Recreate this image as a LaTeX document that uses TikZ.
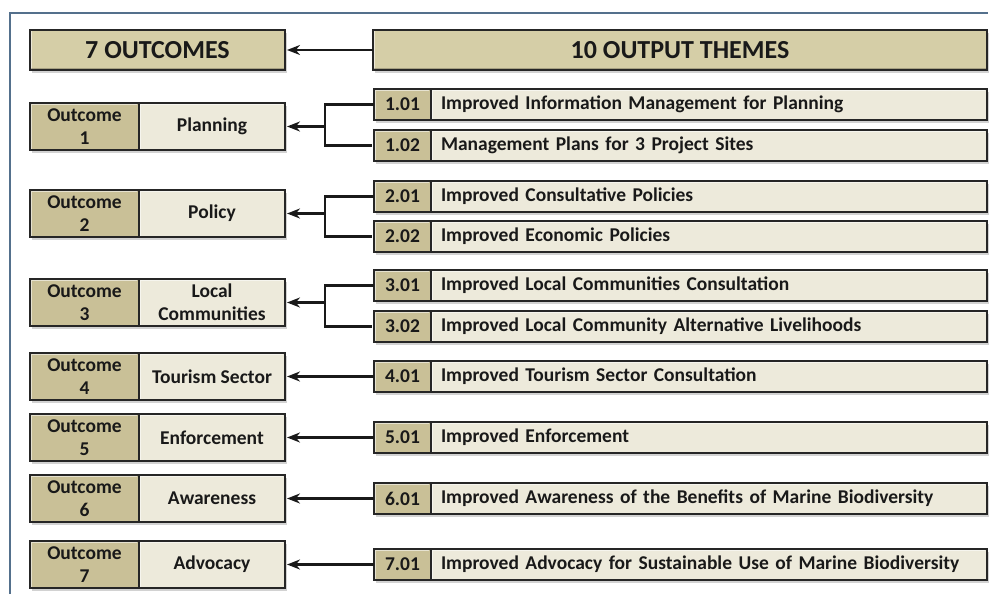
\documentclass[tikz,border=0pt]{standalone}
\usepackage{fontspec}
\setmainfont{Carlito}
\usetikzlibrary{arrows.meta,shadows,calc}

\definecolor{khaki}{RGB}{201,192,151}
\definecolor{headkhaki}{RGB}{213,206,167}
\definecolor{cream}{RGB}{237,234,219}
\definecolor{framecol}{RGB}{84,112,140}

\tikzset{
  bevel/.style={path picture={
      \draw[white,opacity=.55,line width=3pt] (path picture bounding box.south west) |- (path picture bounding box.north east);
      \draw[black,opacity=.22,line width=3pt] (path picture bounding box.south west) -| (path picture bounding box.north east);}},
  cell/.style={draw=black!85,line width=1.3pt,outer sep=0pt,inner sep=0pt,text=black!90,
               font=\bfseries\fontsize{19.5}{23}\selectfont,bevel,
               drop shadow={shadow xshift=2pt,shadow yshift=-3pt,fill=black!35}},
  headcell/.style={cell,fill=headkhaki,minimum height=40pt,font=\bfseries\fontsize{26}{30}\selectfont},
  outcell/.style={cell,fill=khaki,minimum width=109pt,minimum height=47pt,align=center},
  namecell/.style={cell,fill=cream,minimum width=146pt,minimum height=47pt,align=center},
  codecell/.style={cell,fill=khaki,minimum width=57pt,minimum height=31pt},
  themecell/.style={cell,fill=cream,minimum height=31pt,inner xsep=10pt,text width=536pt,align=left},
  link/.style={line width=2.8pt,black!90}
}

\begin{document}
\begin{tikzpicture}[x=1pt,y=-1pt,>={Stealth[length=13pt,width=10pt]},shorten >=2pt]

  \fill[white,use as bounding box] (0,0) rectangle (990,594);
  \draw[framecol,line width=1.5pt] (10,594) |- (990,13);

  % headings
  \node[headcell,minimum width=255pt,anchor=north west] (hout) at (30,30) {7 OUTCOMES};
  \node[headcell,minimum width=614pt,anchor=north west] (hthm) at (373,30) {10 OUTPUT THEMES};

  % outcomes
  \node[outcell,anchor=north west] (o1) at (30,103) {Outcome\\1};
  \node[namecell,anchor=west]      (n1) at (o1.east) {Planning};
  \node[outcell,anchor=north west] (o2) at (30,190) {Outcome\\2};
  \node[namecell,anchor=west]      (n2) at (o2.east) {Policy};
  \node[outcell,anchor=north west] (o3) at (30,279) {Outcome\\3};
  \node[namecell,anchor=west]      (n3) at (o3.east) {Local\\Communities};
  \node[outcell,anchor=north west] (o4) at (30,353) {Outcome\\4};
  \node[namecell,anchor=west]      (n4) at (o4.east) {Tourism Sector};
  \node[outcell,anchor=north west] (o5) at (30,414) {Outcome\\5};
  \node[namecell,anchor=west]      (n5) at (o5.east) {Enforcement};
  \node[outcell,anchor=north west] (o6) at (30,475) {Outcome\\6};
  \node[namecell,anchor=west]      (n6) at (o6.east) {Awareness};
  \node[outcell,anchor=north west] (o7) at (30,541) {Outcome\\7};
  \node[namecell,anchor=west]      (n7) at (o7.east) {Advocacy};

  % output themes
  \node[codecell,anchor=north west] (c101) at (374,89) {1.01};
  \node[themecell,anchor=west]      (t101) at (c101.east) {Improved Information Management for Planning};
  \node[codecell,anchor=north west] (c102) at (374,130) {1.02};
  \node[themecell,anchor=west]      (t102) at (c102.east) {Management Plans for 3 Project Sites};
  \node[codecell,anchor=north west] (c201) at (374,181) {2.01};
  \node[themecell,anchor=west]      (t201) at (c201.east) {Improved Consultative Policies};
  \node[codecell,anchor=north west] (c202) at (374,221) {2.02};
  \node[themecell,anchor=west]      (t202) at (c202.east) {Improved Economic Policies};
  \node[codecell,anchor=north west] (c301) at (374,270) {3.01};
  \node[themecell,anchor=west]      (t301) at (c301.east) {Improved Local Communities Consultation};
  \node[codecell,anchor=north west] (c302) at (374,311) {3.02};
  \node[themecell,anchor=west]      (t302) at (c302.east) {Improved Local Community Alternative Livelihoods};
  \node[codecell,anchor=north west] (c401) at (374,361) {4.01};
  \node[themecell,anchor=west]      (t401) at (c401.east) {Improved Tourism Sector Consultation};
  \node[codecell,anchor=north west] (c501) at (374,422) {5.01};
  \node[themecell,anchor=west]      (t501) at (c501.east) {Improved Enforcement};
  \node[codecell,anchor=north west] (c601) at (374,483) {6.01};
  \node[themecell,anchor=west]      (t601) at (c601.east) {Improved Awareness of the Benefits of Marine Biodiversity};
  \node[codecell,anchor=north west] (c701) at (374,549) {7.01};
  \node[themecell,anchor=west]      (t701) at (c701.east) {Improved Advocacy for Sustainable Use of Marine Biodiversity};

  % brackets joining paired themes
  \coordinate (j1) at ($(n1.east)+(40,0)$);
  \coordinate (j2) at ($(n2.east)+(40,0)$);
  \coordinate (j3) at ($(n3.east)+(40,0)$);
  \draw[link] (c101.west) -| (j1) |- (c102.west);
  \draw[link] (c201.west) -| (j2) |- (c202.west);
  \draw[link] (c301.west) -| (j3) |- (c302.west);

  \path (hthm.west) edge[link,->] (hout.east)
        (j1)        edge[link,->] (n1.east)
        (j2)        edge[link,->] (n2.east)
        (j3)        edge[link,->] (n3.east)
        (c401.west) edge[link,->] (n4.east)
        (c501.west) edge[link,->] (n5.east)
        (c601.west) edge[link,->] (n6.east)
        (c701.west) edge[link,->] (n7.east);
\end{tikzpicture}
\end{document}
